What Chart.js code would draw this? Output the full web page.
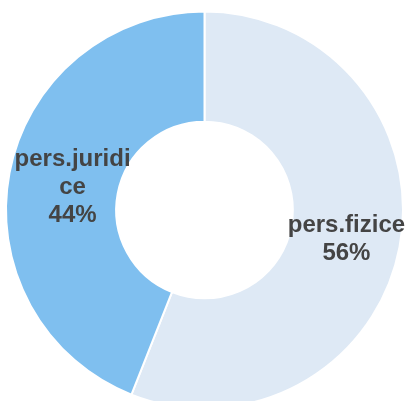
<!DOCTYPE html>
<html>
<head>
<meta charset="utf-8">
<script src="https://cdn.jsdelivr.net/npm/chart.js@4"></script>
<style>
html,body{margin:0;padding:0;background:#fff;overflow:hidden;}
#wrap{position:relative;width:409px;height:420px;}
</style>
</head>
<body>
<div id="wrap"><canvas id="c"></canvas></div>
<script>
const categories = ["pers.fizice", "pers.juridice"];
const values = [56, 44];
const colors = ["#dee9f5", "#7fbfef"];

const labelPlugin = {
  id: 'sliceLabels',
  afterDatasetsDraw(chart) {
    const ctx = chart.ctx;
    const meta = chart.getDatasetMeta(0);
    const total = values.reduce((a, b) => a + b, 0);
    ctx.save();
    ctx.font = 'bold 24px "Liberation Sans", Arial, sans-serif';
    ctx.fillStyle = '#444444';
    ctx.textAlign = 'center';
    ctx.textBaseline = 'middle';
    const maxW = 122;
    meta.data.forEach((arc, i) => {
      const pr = arc.getProps(['x', 'y', 'startAngle', 'endAngle', 'innerRadius', 'outerRadius'], true);
      const mid = (pr.startAngle + pr.endAngle) / 2;
      const r = (pr.innerRadius + pr.outerRadius) / 2 - 4;
      const px = pr.x + Math.cos(mid) * r + 5;
      const py = pr.y + Math.sin(mid) * r + 3;
      const lines = [];
      let cur = '';
      for (const ch of categories[i]) {
        if (ctx.measureText(cur + ch).width > maxW && cur) { lines.push(cur); cur = ch; }
        else cur += ch;
      }
      if (cur) lines.push(cur);
      lines.push(Math.round(values[i] / total * 100) + '%');
      const lh = 28;
      const y0 = py - (lines.length - 1) * lh / 2;
      lines.forEach((t, k) => ctx.fillText(t, px, y0 + k * lh));
    });
    ctx.restore();
  }
};

new Chart(document.getElementById('c'), {
  type: 'doughnut',
  data: {
    labels: categories,
    datasets: [{
      data: values,
      backgroundColor: colors,
      borderColor: '#ffffff',
      borderWidth: 2,
      hoverOffset: 0
    }]
  },
  options: {
    responsive: true,
    maintainAspectRatio: false,
    animation: false,
    cutout: '44.5%',
    layout: { padding: { left: 5, right: 5, top: 10, bottom: 10 } },
    plugins: { legend: { display: false }, tooltip: { enabled: false } }
  },
  plugins: [labelPlugin]
});
</script>
</body>
</html>
